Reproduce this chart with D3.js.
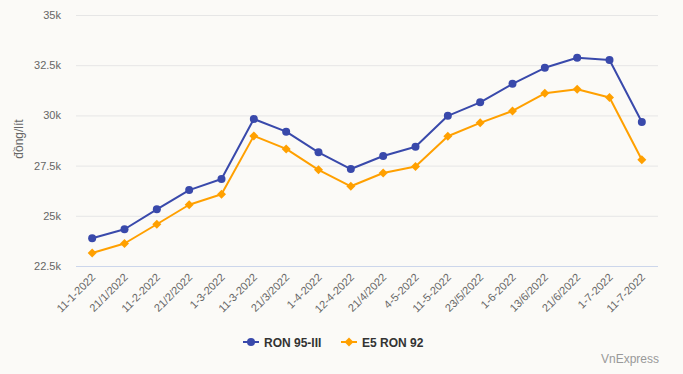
<!DOCTYPE html>
<html><head><meta charset="utf-8">
<script src="https://cdn.jsdelivr.net/npm/d3@7"></script>
<style>
html,body{margin:0;padding:0;background:#fbfaf7;}
svg{display:block;font-family:"Liberation Sans",Arial,Helvetica,sans-serif;}
</style></head>
<body><svg id="c" width="683" height="374"></svg>
<script>
const categories = ["11-1-2022","21/1/2022","11-2-2022","21/2/2022","1-3-2022","11-3-2022","21/3/2022","1-4-2022","12-4-2022","21/4/2022","4-5-2022","11-5-2022","23/5/2022","1-6-2022","13/6/2022","21/6/2022","1-7-2022","11-7-2022"];
const ron95 = [23880,24330,25320,26280,26830,29820,29190,28160,27330,27980,28440,29980,30650,31570,32370,32870,32760,29670];
const e5ron92 = [23150,23620,24580,25550,26070,28980,28330,27290,26470,27130,27460,28960,29630,30220,31100,31300,30890,27790];
const yTicks = [22500,25000,27500,30000,32500,35000];
const seriesNames = ["RON 95-III","E5 RON 92"];
const colors = ["#3949ab","#ffa000"];

const svg = d3.select("#c");
svg.append("rect").attr("width",683).attr("height",374).attr("fill","#fbfaf7");
const L=76, R=658, T=15, B=266;
const x = d3.scaleBand().domain(categories).range([L,R]);
const y = d3.scaleLinear().domain([22500,35000]).range([B,T]);

svg.append("g").selectAll("line").data(yTicks.filter(d=>d>22500)).join("line")
  .attr("x1",L).attr("x2",R).attr("y1",d=>y(d)+0.5).attr("y2",d=>y(d)+0.5)
  .attr("stroke","#e6e6e6").attr("stroke-width",1);
svg.append("g").selectAll("text").data(yTicks).join("text")
  .attr("x",61).attr("y",d=>y(d)+4).attr("text-anchor","end")
  .attr("font-size",11).attr("fill","#666")
  .text(d=>(d/1000)+"k");
svg.append("text").attr("transform",`translate(23,139) rotate(-90)`)
  .attr("text-anchor","middle").attr("font-size",12).attr("fill","#666").text("đồng/lít");
svg.append("line").attr("x1",L).attr("x2",R).attr("y1",B+0.5).attr("y2",B+0.5)
  .attr("stroke","#ccd6eb").attr("stroke-width",1);
svg.append("g").selectAll("text").data(categories).join("text")
  .attr("transform",d=>`translate(${x(d)+x.bandwidth()/2+4},${B+12}) rotate(-45)`)
  .attr("text-anchor","end").attr("font-size",11).attr("fill","#666").text(d=>d);

const cx = (d,i)=>x(categories[i])+x.bandwidth()/2;
const line = d3.line().x((d,i)=>cx(d,i)).y(d=>y(d));
const diamond = "M0,-4.5L4.5,0L0,4.5L-4.5,0Z";
[ron95,e5ron92].forEach((s,k)=>{
  svg.append("path").datum(s).attr("d",line).attr("fill","none")
    .attr("stroke",colors[k]).attr("stroke-width",2).attr("stroke-linejoin","round");
  if(k===0){
    svg.append("g").selectAll("circle").data(s).join("circle")
      .attr("cx",cx).attr("cy",d=>y(d)).attr("r",4).attr("fill",colors[k]);
  } else {
    svg.append("g").selectAll("path").data(s).join("path")
      .attr("transform",(d,i)=>`translate(${cx(d,i)},${y(d)})`)
      .attr("d",diamond).attr("fill",colors[k]);
  }
});

const legX=[243,341];
seriesNames.forEach((n,k)=>{
  const g=svg.append("g").attr("transform",`translate(${legX[k]},342)`);
  g.append("line").attr("x1",0).attr("x2",16).attr("stroke",colors[k]).attr("stroke-width",2);
  if(k===0) g.append("circle").attr("cx",8).attr("r",4).attr("fill",colors[k]);
  else g.append("path").attr("transform","translate(8,0)").attr("d",diamond).attr("fill",colors[k]);
  g.append("text").attr("x",21).attr("y",4.5).attr("font-size",12).attr("font-weight","bold")
    .attr("fill","#333").text(n);
});
svg.append("text").attr("x",659).attr("y",363).attr("text-anchor","end")
  .attr("font-size",12).attr("fill","#999").text("VnExpress");
</script></body></html>
